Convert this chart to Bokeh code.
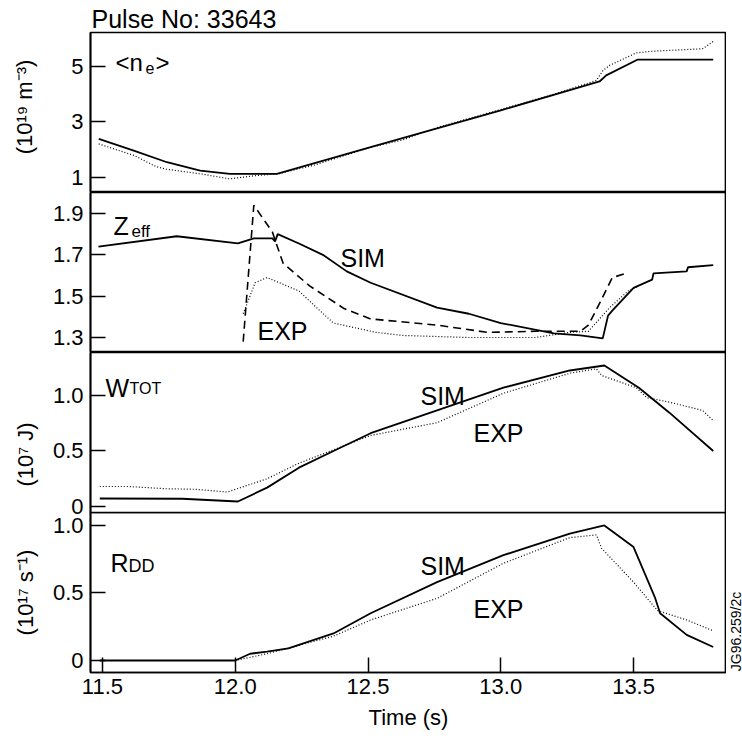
import math
from bokeh.plotting import figure
from bokeh.models import Range1d, FixedTicker, Label
from bokeh.layouts import column, row
from bokeh.embed import file_html
from bokeh.resources import INLINE

# ---------------- data ----------------
ne_sim_t = [11.486, 11.618, 11.743, 11.868, 11.98, 12.157, 12.5, 13.0, 13.372, 13.397, 13.516, 13.80]
ne_sim_v = [2.39, 1.97, 1.55, 1.25, 1.13, 1.13, 2.07, 3.42, 4.46, 4.68, 5.25, 5.25]
ne_exp_t = [11.486, 11.62, 11.70, 11.74, 11.87, 11.98, 12.07, 12.16, 12.3, 12.51, 12.63, 12.76,
            13.0, 13.2, 13.36, 13.385, 13.41, 13.51, 13.57, 13.76, 13.80]
ne_exp_v = [2.21, 1.79, 1.40, 1.30, 1.13, 0.95, 1.06, 1.13, 1.45, 2.09, 2.35, 2.80,
            3.45, 4.0, 4.50, 4.86, 5.04, 5.49, 5.55, 5.64, 5.90]

zeff_sim_t = [11.485, 11.78, 12.01, 12.07, 12.14, 12.15, 12.16, 12.24, 12.33, 12.42, 12.51, 12.76,
              12.88, 13.0, 13.2, 13.30, 13.384, 13.404, 13.42, 13.50, 13.57, 13.575, 13.70, 13.705, 13.80]
zeff_sim_v = [1.74, 1.79, 1.755, 1.78, 1.78, 1.765, 1.80, 1.755, 1.70, 1.62, 1.565, 1.445,
              1.415, 1.37, 1.32, 1.31, 1.296, 1.406, 1.43, 1.54, 1.58, 1.61, 1.62, 1.64, 1.65]
zeff_dash_t = [12.03, 12.07, 12.14, 12.18, 12.28, 12.41, 12.51, 12.76, 12.95, 13.13, 13.30, 13.33,
               13.37, 13.42, 13.47]
zeff_dash_v = [1.28, 1.94, 1.81, 1.66, 1.55, 1.44, 1.39, 1.36, 1.325, 1.33, 1.33, 1.36,
               1.46, 1.59, 1.61]
zeff_exp_t = [12.03, 12.075, 12.12, 12.24, 12.31, 12.37, 12.53, 12.63, 12.88, 13.13, 13.26, 13.33,
              13.41, 13.48, 13.52]
zeff_exp_v = [1.415, 1.565, 1.59, 1.525, 1.44, 1.37, 1.325, 1.31, 1.30, 1.30, 1.325, 1.33,
              1.445, 1.525, 1.55]

w_sim_t = [11.49, 11.8, 12.01, 12.12, 12.24, 12.37, 12.51, 12.76, 13.01, 13.26, 13.39, 13.52, 13.635, 13.80]
w_sim_v = [0.072, 0.07, 0.045, 0.17, 0.35, 0.50, 0.66, 0.865, 1.07, 1.225, 1.27, 1.07, 0.845, 0.50]
w_exp_t = [11.49, 11.6, 11.74, 11.85, 11.97, 12.12, 12.24, 12.51, 12.76, 13.01, 13.26, 13.36,
           13.38, 13.51, 13.55, 13.635, 13.76, 13.80]
w_exp_v = [0.18, 0.18, 0.16, 0.155, 0.13, 0.25, 0.39, 0.64, 0.755, 1.02, 1.2, 1.24,
           1.18, 1.07, 0.98, 0.94, 0.865, 0.775]

r_sim_t = [11.49, 12.0, 12.056, 12.12, 12.2, 12.37, 12.51, 12.76, 13.01, 13.26, 13.39, 13.50,
           13.58, 13.60, 13.70, 13.80]
r_sim_v = [0.0, 0.0, 0.05, 0.065, 0.09, 0.20, 0.35, 0.58, 0.78, 0.94, 1.0, 0.84,
           0.47, 0.35, 0.19, 0.10]
r_exp_t = [11.49, 12.0, 12.12, 12.37, 12.51, 12.76, 13.01, 13.26, 13.36, 13.38, 13.50, 13.59, 13.70, 13.80]
r_exp_v = [0.0, 0.0, 0.05, 0.18, 0.30, 0.46, 0.72, 0.91, 0.93, 0.83, 0.58, 0.37, 0.30, 0.22]

x_ticks = [11.5, 12.0, 12.5, 13.0, 13.5]
x_tick_labels = ["11.5", "12.0", "12.5", "13.0", "13.5"]
ne_ticks = [1, 3, 5]
zeff_ticks = [1.3, 1.5, 1.7, 1.9]
w_ticks = [0, 0.5, 1.0]
r_ticks = [0, 0.5, 1.0]
unit_tick_labels = {0: "0", 0.5: "0.5", 1: "1.0"}

# ---------------- layout helpers ----------------
FONT = "Liberation Sans"
X0, X1 = 11.455, 13.85
FL, FR = 90, 726
FH = 160
TOP = 32
BOTTOM = 64
OVER = 8  # panel 3 reaches this far under panel 4, so its "0" label is not cut
TOTAL_H = TOP + 4 * FH + BOTTOM
EN = "\u2002"  # en space, used to nudge a rotated axis label along its axis


def xd(px):
    return X0 + (px - FL) / (FR - FL) * (X1 - X0)


def make_fig(y0, y1, ticks, ylabel, label_standoff, overrides=None, top=0, bottom=0, xaxis=False):
    p = figure(frame_width=FR - FL, frame_height=FH, output_backend="svg", toolbar_location=None,
               x_range=Range1d(X0, X1), y_range=Range1d(y0, y1),
               x_axis_location="below" if xaxis else None, y_axis_location="left",
               min_border_left=FL, min_border_right=0, min_border_top=top, min_border_bottom=bottom)
    p.grid.visible = False
    p.background_fill_color = "white"
    p.border_fill_color = "white"
    p.outline_line_color = "black"
    p.outline_line_width = 1.7
    ax = p.yaxis[0]
    ax.ticker = FixedTicker(ticks=ticks)
    ax.minor_tick_line_color = None
    ax.major_tick_in = 15
    ax.major_tick_out = 0
    ax.major_tick_line_width = 1.5
    ax.axis_line_width = 1.7
    ax.major_label_standoff = 7
    ax.major_label_text_font = FONT
    ax.major_label_text_font_size = "22px"
    ax.major_label_text_color = "black"
    if overrides:
        ax.major_label_overrides = overrides
    if ylabel:
        ax.axis_label = ylabel
        ax.axis_label_text_font = FONT
        ax.axis_label_text_font_size = "22px"
        ax.axis_label_text_font_style = "normal"
        ax.axis_label_text_color = "black"
        ax.axis_label_standoff = label_standoff
    if xaxis:
        xa = p.xaxis[0]
        xa.ticker = FixedTicker(ticks=x_ticks)
        xa.major_label_overrides = dict(zip(x_ticks, x_tick_labels))
        xa.minor_tick_line_color = None
        xa.major_tick_in = 15
        xa.major_tick_out = 0
        xa.major_tick_line_width = 1.5
        xa.axis_line_width = 1.7
        xa.major_label_standoff = 6
        xa.major_label_text_font = FONT
        xa.major_label_text_font_size = "22px"
        xa.major_label_text_color = "black"
        xa.axis_label = "Time (s)"
        xa.axis_label_text_font = FONT
        xa.axis_label_text_font_size = "22px"
        xa.axis_label_text_font_style = "normal"
        xa.axis_label_text_color = "black"
        xa.axis_label_standoff = 8
    return p


def label(p, top, y0, y1, px, py, text, size):
    yv = y1 - (py - top) / FH * (y1 - y0)
    p.add_layout(Label(x=xd(px), y=yv, text=text, text_font=FONT, text_font_size=size,
                       text_color="black", text_align="left", text_baseline="alphabetic"))


def solid(p, t, v):
    p.line(t, v, line_color="black", line_width=1.8)


def dotted(p, t, v):
    p.line(t, v, line_color="black", line_width=1.2, line_dash="1 2")


def dashed(p, t, v):
    p.line(t, v, line_color="black", line_width=1.6, line_dash="8 5")


# panel 1 : <ne>
R1 = (0.459, 6.225)
p1 = make_fig(*R1, ne_ticks, EN + "(10\u00b9\u2079 m\u207b\u00b3)", 31, top=TOP)
p1.title.text = "Pulse No: 33643"
p1.title.align = "left"
p1.title.offset = 1
p1.title.standoff = 0
p1.title.text_font = FONT
p1.title.text_font_size = "25px"
p1.title.text_font_style = "normal"
p1.title.text_color = "black"
dotted(p1, ne_exp_t, ne_exp_v)
solid(p1, ne_sim_t, ne_sim_v)
label(p1, 32, *R1, 115, 62, "<n", "24px")
label(p1, 32, *R1, 145, 67, "e", "16px")
label(p1, 32, *R1, 155, 62, ">", "24px")

# panel 2 : Zeff
R2 = (1.2275, 2.0016)
p2 = make_fig(*R2, zeff_ticks, None, 0)
dotted(p2, zeff_exp_t, zeff_exp_v)
dashed(p2, zeff_dash_t, zeff_dash_v)
solid(p2, zeff_sim_t, zeff_sim_v)
label(p2, 192, *R2, 113, 225, "Z", "25px")
label(p2, 192, *R2, 131, 231, "eff", "17px")
label(p2, 192, *R2, 340, 257, "SIM", "25px")
label(p2, 192, *R2, 257, 330, "EXP", "25px")

# panel 3 : Wtot
R3 = (-0.054, 1.387)
p3 = make_fig(*R3, w_ticks, "(10\u2077 J)" + EN * 4, 12, overrides=unit_tick_labels, bottom=OVER)
dotted(p3, w_exp_t, w_exp_v)
solid(p3, w_sim_t, w_sim_v)
label(p3, 352, *R3, 105, 387, "W", "25px")
label(p3, 352, *R3, 129, 388, "TOT", "16px")
label(p3, 352, *R3, 420, 395, "SIM", "25px")
label(p3, 352, *R3, 473, 432, "EXP", "25px")

# panel 4 : RDD (transparent, pulled up over panel 3's small bottom border)
R4 = (-0.089, 1.096)
p4 = make_fig(*R4, r_ticks, "(10\u00b9\u2077 s\u207b\u00b9)", 12, overrides=unit_tick_labels,
              bottom=BOTTOM, xaxis=True)
p4.background_fill_color = None
p4.border_fill_color = None
p4.styles = {"margin-top": "-%dpx" % OVER}
dotted(p4, r_exp_t, r_exp_v)
solid(p4, r_sim_t, r_sim_v)
label(p4, 512, *R4, 110, 562, "R", "25px")
label(p4, 512, *R4, 128, 565, "DD", "18px")
label(p4, 512, *R4, 420, 565, "SIM", "25px")
label(p4, 512, *R4, 473, 608, "EXP", "25px")

# narrow strip on the right for the figure code
strip = figure(frame_width=16, frame_height=TOTAL_H, output_backend="svg", toolbar_location=None,
               x_range=Range1d(0, 16), y_range=Range1d(TOTAL_H, 0),
               x_axis_location=None, y_axis_location=None,
               min_border_left=0, min_border_right=0, min_border_top=0, min_border_bottom=0)
strip.grid.visible = False
strip.outline_line_color = None
strip.add_layout(Label(x=9, y=631, text="JG96.259/2c", text_font=FONT, text_font_size="14px",
                       text_color="black", text_align="center", text_baseline="middle",
                       angle=math.pi / 2))

layout = row(column(p1, p2, p3, p4, spacing=0), strip, spacing=0)
open("out.html", "w").write(file_html(layout, INLINE))
